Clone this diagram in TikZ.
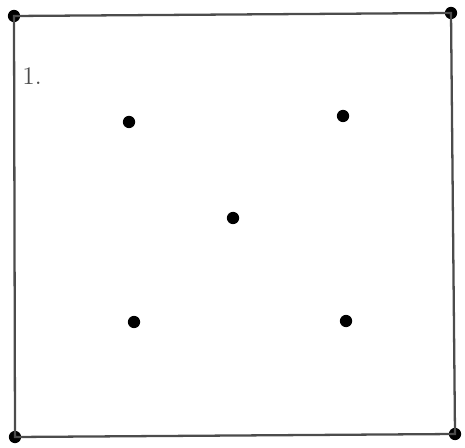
\documentclass[tikz,border=0pt]{standalone}
\usepackage{amsmath, amssymb}

\begin{document}
\begin{tikzpicture}[
    x=0.02cm, y=-0.02cm,
    vertex/.style={circle, fill=black, inner sep=0pt, minimum size=7pt},
    every node/.style={font=\small},
    line width=1.3pt, draw=black!70
  ]
  \useasboundingbox (0,0) rectangle (465,448);
  % Corners
  \node[vertex] (c1) at (14,16) {};
  \node[vertex] (c2) at (451,13) {};
  \node[vertex] (c3) at (455,434) {};
  \node[vertex] (c4) at (15,437) {};

  % Inner points
  \node[vertex] (p1) at (129,122) {};
  \node[vertex] (p2) at (343,116) {};
  \node[vertex] (p3) at (233,218) {};
  \node[vertex] (p4) at (134,322) {};
  \node[vertex] (p5) at (346,321) {};

  % Label
  \node[font=\Large, text=black!70] (lbl) at (32,76) {1.};

  % Border
  \draw (c1.center) -- (c2.center) -- (c3.center) -- (c4.center) -- cycle;
\end{tikzpicture}
\end{document}
